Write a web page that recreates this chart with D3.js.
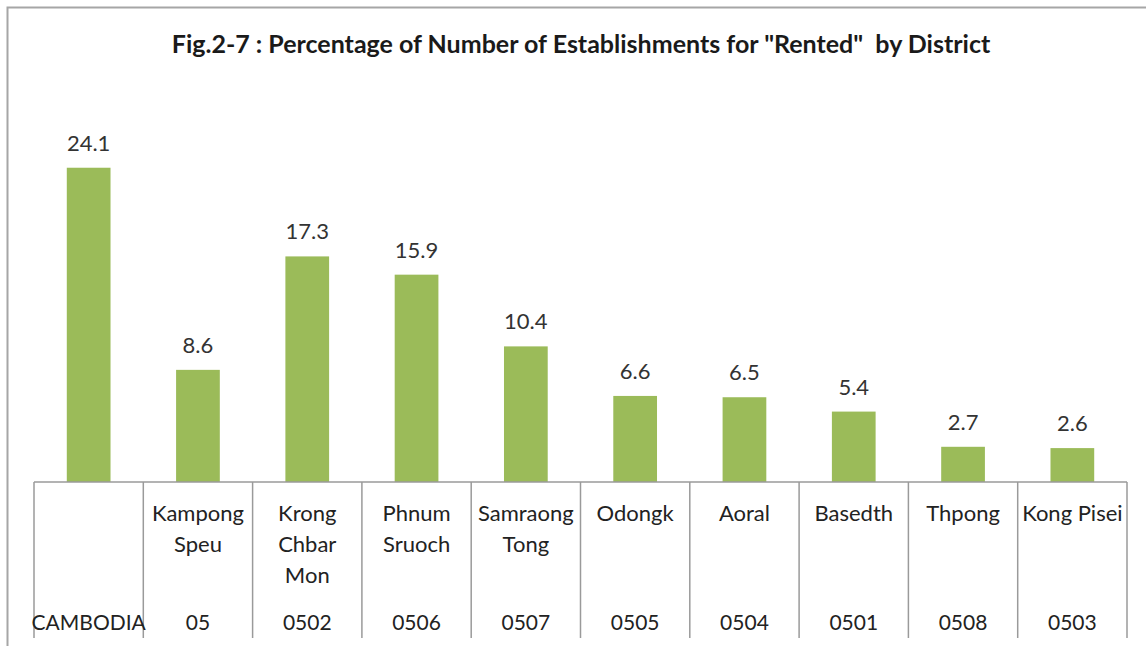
<!DOCTYPE html>
<html>
<head>
<meta charset="utf-8">
<script src="https://cdn.jsdelivr.net/npm/d3@7"></script>
<style>
  body { margin: 0; background: #fff; }
  svg { display: block; font-family: Lato, "Open Sans", sans-serif; }
</style>
</head>
<body>
<svg id="chart" width="1146" height="646"></svg>
<script>
// data
var names = [[], ['Kampong', 'Speu'], ['Krong', 'Chbar', 'Mon'], ['Phnum', 'Sruoch'],
  ['Samraong', 'Tong'], ['Odongk'], ['Aoral'], ['Basedth'], ['Thpong'], ['Kong Pisei']];
var codes = ['CAMBODIA', '05', '0502', '0506', '0507', '0505', '0504', '0501', '0508', '0503'];
var values = [24.1, 8.6, 17.3, 15.9, 10.4, 6.6, 6.5, 5.4, 2.7, 2.6];

var svg = d3.select('#chart');
var baseY = 482, left = 34, right = 1127, bottom = 638;

// outer frame
svg.append('rect')
  .attr('x', 7.5).attr('y', 7.5)
  .attr('width', 1160).attr('height', 700)
  .attr('fill', 'none').attr('stroke', '#a6a6a6').attr('stroke-width', 2);

svg.append('text')
  .attr('x', 581).attr('y', 53)
  .attr('text-anchor', 'middle')
  .attr('font-size', 25).attr('font-weight', 'bold').attr('fill', '#1a1a1a')
  .style('white-space', 'pre')
  .text('Fig.2-7 : Percentage of Number of Establishments for "Rented"  by District');

var xScale = d3.scaleBand()
  .domain(codes)
  .range([left, right])
  .paddingInner(0).paddingOuter(0);

var yScale = d3.scaleLinear()
  .domain([0, 25])
  .range([baseY, baseY - 326]);

var bw = xScale.bandwidth() * 0.4;

svg.selectAll('rect.bar')
  .data(values)
  .enter()
  .append('rect')
  .attr('class', 'bar')
  .attr('x', function(d, i) { return xScale(codes[i]) + xScale.bandwidth() / 2 - bw / 2; })
  .attr('y', function(d) { return yScale(d); })
  .attr('width', bw)
  .attr('height', function(d) { return baseY - yScale(d); })
  .attr('fill', '#9bbb59');

svg.selectAll('text.val')
  .data(values)
  .enter()
  .append('text')
  .attr('class', 'val')
  .attr('x', function(d, i) { return xScale(codes[i]) + xScale.bandwidth() / 2; })
  .attr('y', function(d) { return yScale(d) - 17; })
  .attr('text-anchor', 'middle')
  .attr('font-size', 22).attr('fill', '#333')
  .text(function(d) { return d.toFixed(1); });

// table-like axis
svg.append('line')
  .attr('x1', left).attr('x2', right)
  .attr('y1', baseY).attr('y2', baseY)
  .attr('stroke', '#9a9a9a').attr('stroke-width', 1.5);

var edges = codes.map(function(c) { return xScale(c); }).concat([right]);
svg.selectAll('line.sep')
  .data(edges)
  .enter()
  .append('line')
  .attr('class', 'sep')
  .attr('x1', function(d) { return d; }).attr('x2', function(d) { return d; })
  .attr('y1', baseY).attr('y2', bottom)
  .attr('stroke', '#9a9a9a').attr('stroke-width', 1.5);

var cat = svg.selectAll('g.cat')
  .data(codes)
  .enter()
  .append('g')
  .attr('class', 'cat')
  .attr('transform', function(d) { return 'translate(' + (xScale(d) + xScale.bandwidth() / 2) + ',0)'; });

cat.each(function(d, i) {
  var g = d3.select(this);
  names[i].forEach(function(n, j) {
    g.append('text')
      .attr('y', 521 + j * 31)
      .attr('text-anchor', 'middle')
      .attr('font-size', 22).attr('fill', '#222')
      .text(n);
  });
  g.append('text')
    .attr('y', 630)
    .attr('text-anchor', 'middle')
    .attr('font-size', 21).attr('fill', '#222')
    .text(d);
});
</script>
</body>
</html>
